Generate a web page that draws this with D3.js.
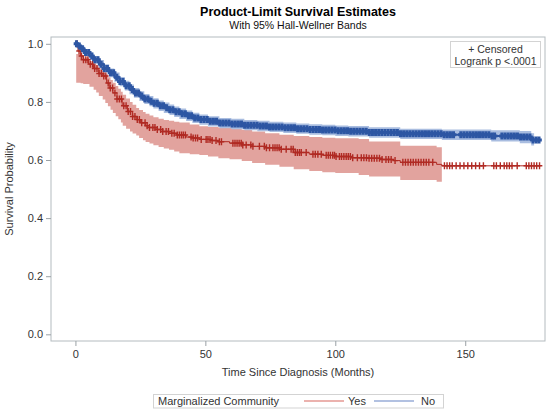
<!DOCTYPE html>
<html>
<head>
<meta charset="utf-8">
<script src="https://cdn.jsdelivr.net/npm/d3@7"></script>
<style>
  body { margin: 0; background: #fff; }
  text { font-family: 'Liberation Sans', Arial, sans-serif; fill: #333; }
</style>
</head>
<body>
<div id="chart"></div>
<script>
'use strict'

const xTicks = [0, 50, 100, 150]
const yTicks = [0, 0.2, 0.4, 0.6, 0.8, 1.0]
const groups = ['Yes', 'No']

// Yes (marginalized) - step knots of the KM estimate
const yesTime = [0, 1, 2, 3, 5, 7, 9, 10.5, 12, 13, 14.4, 16, 18, 20, 22, 23.4, 25, 27, 28.5, 31, 33.6, 36, 39, 42.6, 45, 48, 52, 55, 59.3, 64, 68, 73, 78.5, 84, 90, 95, 100, 106, 113, 118, 122.6, 125, 139, 141]
const yesSurv = [1.0, 0.975, 0.958, 0.945, 0.93, 0.915, 0.898, 0.889, 0.865, 0.848, 0.831, 0.81, 0.787, 0.767, 0.75, 0.739, 0.728, 0.718, 0.712, 0.705, 0.698, 0.692, 0.686, 0.679, 0.676, 0.671, 0.667, 0.663, 0.658, 0.652, 0.647, 0.642, 0.637, 0.626, 0.62, 0.616, 0.612, 0.608, 0.606, 0.602, 0.598, 0.592, 0.585, 0.58]
const yesEnd = 179
const yesBandTime = [0.3, 2, 3, 5.4, 7, 8, 9, 10.5, 11.5, 12.5, 13.5, 14.4, 15.5, 16.5, 17.5, 18.2, 19.5, 21, 22, 23.4, 24.5, 26, 27, 28.5, 30, 32, 34, 36, 38, 40, 44, 47.7, 51, 55, 59.3, 64, 68, 73, 78.5, 84, 90, 95, 100, 109, 113, 125, 139, 141]
const yesBandLo = [0.866, 0.864, 0.862, 0.852, 0.842, 0.832, 0.82, 0.808, 0.796, 0.785, 0.773, 0.762, 0.751, 0.74, 0.729, 0.718, 0.708, 0.698, 0.691, 0.684, 0.676, 0.668, 0.662, 0.657, 0.651, 0.645, 0.64, 0.635, 0.629, 0.623, 0.62, 0.617, 0.612, 0.606, 0.603, 0.597, 0.59, 0.584, 0.577, 0.568, 0.562, 0.558, 0.555, 0.548, 0.543, 0.531, 0.525, 0.525]
const yesBandHi = [0.965, 0.962, 0.952, 0.94, 0.932, 0.925, 0.916, 0.906, 0.895, 0.885, 0.875, 0.866, 0.855, 0.845, 0.835, 0.825, 0.812, 0.8, 0.79, 0.779, 0.772, 0.765, 0.759, 0.753, 0.747, 0.742, 0.738, 0.735, 0.732, 0.729, 0.722, 0.716, 0.714, 0.712, 0.71, 0.704, 0.698, 0.692, 0.687, 0.683, 0.679, 0.677, 0.675, 0.672, 0.664, 0.649, 0.644, 0.644]
const yesCensor = [0.6, 1.4, 2.3, 3.1, 4.0, 4.8, 5.7, 6.6, 7.4, 8.3, 9.1, 10.0, 10.9, 11.7, 12.6, 13.4, 14.3, 15.2, 16.0, 16.9, 17.7, 18.6, 19.5, 20.3, 21.2, 22.0, 22.9, 23.8, 24.6, 25.5, 26.8, 27.6, 28.5, 29.8, 30.6, 31.5, 32.8, 33.6, 34.9, 35.8, 37.1, 38.0, 39.2,
  40.0, 40.8, 41.5, 42.3, 44.5, 45.3, 46.2, 47.0, 48.4, 50.3, 51.0, 51.8, 52.6, 54.1, 55.4, 56.2, 60.6, 61.4, 62.2, 63.0, 63.8, 64.4, 65.7, 67.5, 68.3, 70.8, 72.7, 73.5, 74.7, 76.0, 76.8, 77.6, 78.4, 79.2, 81.1, 83.0, 83.8, 84.6, 85.4, 86.2, 86.9, 88.8,
  91.4, 92.3, 93.3, 94.6, 96.5, 97.3, 98.1, 99.0, 99.7, 100.3, 101.6, 102.4, 103.3, 104.2, 105.0, 105.8, 106.7, 108.5, 110.0, 111.0, 112.0, 113.0, 114.0, 115.0, 116.0, 117.0, 118.0, 119.5, 120.5, 121.5, 123.0,
  126.0, 127.0, 128.0, 129.0, 130.0, 131.0, 132.0, 133.0, 134.0, 135.0, 136.0, 137.5, 142.0, 143.0, 144.0, 145.0, 146.5, 148.0, 149.5, 151.0, 152.5, 154.0, 155.5, 157.0, 161.0, 162.0, 163.5, 165.0, 166.0, 167.0, 168.0, 170.0, 173.5, 174.5, 175.5, 176.5, 177.5, 178.6]

// No (not marginalized)
const noTime = [0, 1, 2, 3.5, 5.4, 7, 9, 11, 13, 15, 17, 19, 20.8, 22.5, 24.6, 26.5, 28.5, 30, 32, 34, 36.2, 38, 40, 42.6, 45, 47.7, 51, 55.4, 60, 65, 70, 74.7, 80, 85, 90, 95, 100, 105, 113, 125, 141, 160, 171, 175.4]
const noSurv = [1.0, 0.992, 0.983, 0.97, 0.958, 0.945, 0.93, 0.915, 0.9, 0.885, 0.87, 0.856, 0.843, 0.831, 0.82, 0.81, 0.802, 0.795, 0.787, 0.78, 0.773, 0.766, 0.759, 0.752, 0.745, 0.739, 0.733, 0.727, 0.724, 0.72, 0.717, 0.714, 0.711, 0.708, 0.705, 0.703, 0.701, 0.699, 0.695, 0.69, 0.687, 0.683, 0.679, 0.669]
const noEnd = 178.6
const noBandTime = [0.3, 1, 2, 3.5, 5.4, 7, 9, 11, 13, 15, 17, 19, 20.8, 22.5, 24.6, 26.5, 28.5, 30, 32, 34, 36.2, 38, 40, 42.6, 45, 47.7, 51, 55.4, 60, 65, 70, 74.7, 80, 85, 90, 95, 100, 105, 113, 125, 141, 160, 171, 175.4, 176.5]
const noBandLo = [0.99, 0.983, 0.973, 0.959, 0.946, 0.932, 0.916, 0.9, 0.885, 0.869, 0.854, 0.839, 0.826, 0.814, 0.803, 0.793, 0.785, 0.777, 0.769, 0.762, 0.755, 0.748, 0.741, 0.734, 0.727, 0.721, 0.715, 0.709, 0.706, 0.702, 0.699, 0.696, 0.693, 0.69, 0.687, 0.685, 0.683, 0.681, 0.677, 0.672, 0.669, 0.664, 0.658, 0.65, 0.65]
const noBandHi = [1.0, 1.0, 0.993, 0.981, 0.97, 0.958, 0.944, 0.93, 0.915, 0.901, 0.886, 0.873, 0.86, 0.848, 0.837, 0.827, 0.82, 0.813, 0.805, 0.798, 0.791, 0.784, 0.777, 0.77, 0.763, 0.757, 0.751, 0.745, 0.742, 0.738, 0.735, 0.732, 0.729, 0.726, 0.723, 0.721, 0.719, 0.717, 0.713, 0.708, 0.705, 0.702, 0.7, 0.692, 0.692]
const noCensor = [0.4, 1.5, 2.7, 3.9, 5.1, 6.3, 7.5, 8.7, 9.9, 11.1, 12.3, 13.5, 14.7, 15.9, 17.1, 18.3, 19.5, 20.7, 21.9, 23.1, 24.3, 25.5, 26.7, 27.9, 29.1, 30.3, 31.5, 32.7, 33.9, 35.1, 36.3, 37.5, 38.7, 39.9,
  41.1, 42.3, 43.5, 44.7, 45.9, 47.1, 48.3, 49.5, 50.7, 51.9, 53.1, 54.3, 55.5, 56.7, 57.9, 59.1, 60.3, 61.5, 62.7, 63.9, 65.1, 66.3, 67.5, 68.7, 69.9, 71.1, 72.3, 73.5, 74.7, 75.9, 77.1, 78.3, 79.5,
  80.7, 81.9, 83.1, 84.3, 85.5, 86.7, 87.9, 89.1, 90.3, 91.5, 92.7, 93.9, 95.1, 96.3, 97.5, 98.7, 99.9, 101.1, 102.3, 103.5, 104.7, 105.9, 107.1, 108.3, 109.5, 110.7, 111.9, 113.1, 114.3, 115.5, 116.7, 117.9, 119.1,
  120.3, 121.5, 122.7, 123.9, 125.1, 126.3, 127.5, 128.7, 129.9, 131.1, 132.3, 133.5, 134.7, 135.9, 137.1, 138.3, 139.5, 140.7, 141.9, 143.1, 144.3, 145.5, 148.3, 149.5, 150.7, 151.9, 153.1, 154.3, 155.5, 156.7, 157.9, 159.1, 160.3, 161.3,
  164.1, 165.3, 166.5, 167.7, 168.9, 170.1, 171.3, 172.5, 173.7, 174.9, 176.1, 177.3, 178.4]

const margin = { top: 37, right: 5, bottom: 72, left: 51 }
const width = 550 - margin.left - margin.right
const height = 413 - margin.top - margin.bottom

const colors = {
  Yes: { line: '#b02a23', band: '#e2a39e', legend: '#d8665e' },
  No: { line: '#2d56a3', band: '#a9bde0', legend: '#6684c4' }
}

const svg = d3.select('#chart').append('svg')
  .attr('width', 550)
  .attr('height', 413)

svg.append('rect').attr('width', 550).attr('height', 413).attr('fill', '#fff')

// titles, centered over the plot area
const cx = margin.left + width / 2
svg.append('text').attr('x', cx).attr('y', 15.5)
  .attr('text-anchor', 'middle').style('font-size', '12.5px').style('font-weight', 'bold').style('fill', '#000')
  .text('Product-Limit Survival Estimates')
svg.append('text').attr('x', cx).attr('y', 28.5)
  .attr('text-anchor', 'middle').style('font-size', '10.5px').style('fill', '#111')
  .text('With 95% Hall-Wellner Bands')

const x = d3.scaleLinear().domain([-9.4, 180.7]).range([0, width])
const y = d3.scaleLinear().domain([-0.023, 1.0234]).range([height, 0])

const g = svg.append('g').attr('transform', 'translate(' + margin.left + ',' + margin.top + ')')

function survAt (times, surv, t) {
  const i = d3.bisectRight(times, t) - 1
  return surv[Math.max(0, i)]
}

function drawBand (bTime, bLo, bHi, c) {
  const bandData = bTime.map((t, i) => ({ t: t, lo: bLo[i], hi: bHi[i] }))
  const area = d3.area().curve(d3.curveStepAfter)
    .x(d => x(d.t)).y0(d => y(d.lo)).y1(d => y(d.hi))
  g.append('path').datum(bandData).attr('d', area).attr('fill', c.band)
}

function drawCurve (times, surv, end, censor, c, markWidth, lineWidth) {
  const lineData = times.map((t, i) => [t, surv[i]]).concat([[end, surv[surv.length - 1]]])
  const line = d3.line().curve(d3.curveStepAfter).x(d => x(d[0])).y(d => y(d[1]))
  g.append('path').datum(lineData).attr('d', line)
    .attr('fill', 'none').attr('stroke', c.line).attr('stroke-width', lineWidth)
  // censored observations as "+"
  g.append('g').selectAll('path').data(censor).enter().append('path')
    .attr('transform', d => 'translate(' + x(d) + ',' + y(survAt(times, surv, d)) + ')')
    .attr('d', 'M-2.8,0H2.8M0,-3.5V3.5')
    .attr('fill', 'none').attr('stroke', c.line).attr('stroke-width', markWidth)
}

drawBand(yesBandTime, yesBandLo, yesBandHi, colors.Yes)
drawBand(noBandTime, noBandLo, noBandHi, colors.No)
drawCurve(yesTime, yesSurv, yesEnd, yesCensor, colors.Yes, 1.4, 1)
drawCurve(noTime, noSurv, noEnd, noCensor, colors.No, 3, 2)

// frame
g.append('rect').attr('width', width).attr('height', height)
  .attr('fill', 'none').attr('stroke', '#b4bbbf').attr('stroke-width', 1)

// axes
const yAxis = g.append('g').call(d3.axisLeft(y).tickValues(yTicks).tickFormat(d3.format('.1f')).tickSize(5).tickPadding(3))
const xAxis = g.append('g').attr('transform', 'translate(0,' + height + ')')
  .call(d3.axisBottom(x).tickValues(xTicks).tickSize(5).tickPadding(4))
;[xAxis, yAxis].forEach(a => {
  a.select('.domain').remove()
  a.selectAll('line').attr('stroke', '#9aa1a5')
  a.selectAll('text').style('font-size', '11px').style('fill', '#333').style('font-family', "'Liberation Sans', Arial, sans-serif")
})

svg.append('text').attr('x', cx).attr('y', 376)
  .attr('text-anchor', 'middle').style('font-size', '11px')
  .text('Time Since Diagnosis (Months)')
svg.append('text').attr('transform', 'translate(13,' + (margin.top + height / 2) + ') rotate(-90)')
  .attr('text-anchor', 'middle').style('font-size', '11px')
  .text('Survival Probability')

// inset box
const inset = svg.append('g')
inset.append('rect').attr('x', 450.5).attr('y', 41.5).attr('width', 90).attr('height', 26)
  .attr('fill', '#fff').attr('stroke', '#d3d3d3')
inset.append('text').attr('x', 495.5).attr('y', 53).attr('text-anchor', 'middle').style('font-size', '10.5px').text('+ Censored')
inset.append('text').attr('x', 495.5).attr('y', 64.5).attr('text-anchor', 'middle').style('font-size', '10.5px').text('Logrank p <.0001')

// legend
const legend = svg.append('g')
legend.append('rect').attr('x', 153.5).attr('y', 394.5).attr('width', 290).attr('height', 13.5)
  .attr('fill', '#fff').attr('stroke', '#d3d3d3')
legend.append('text').attr('x', 158).attr('y', 405).style('font-size', '11px').text('Marginalized Community')
const legendPos = { Yes: [304, 344, 348], No: [374, 414, 421] }
groups.forEach(k => {
  const p = legendPos[k]
  legend.append('line').attr('x1', p[0]).attr('x2', p[1]).attr('y1', 401).attr('y2', 401)
    .attr('stroke', colors[k].legend).attr('stroke-width', 1.2)
  legend.append('text').attr('x', p[2]).attr('y', 405).style('font-size', '11px').text(k)
})
</script>
</body>
</html>
